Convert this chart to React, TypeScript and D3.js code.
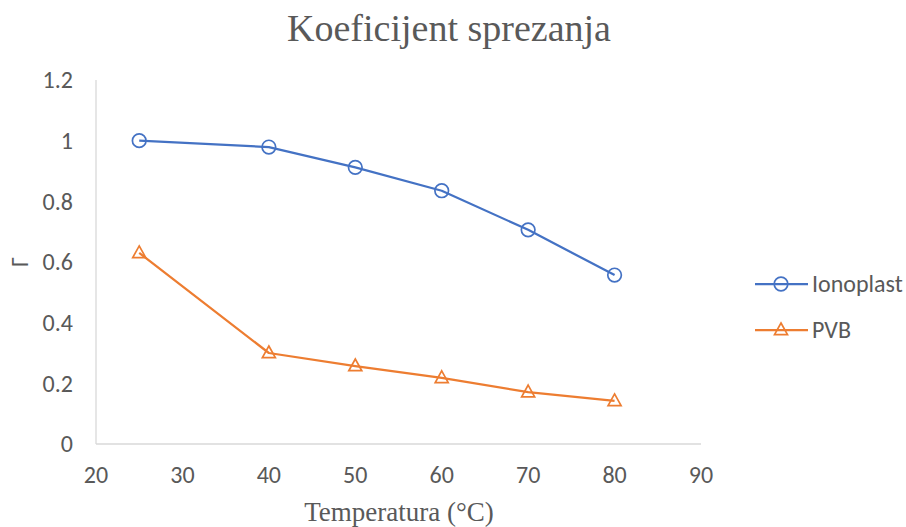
import React from "react";
import * as d3 from "d3";

const temperatures = [25, 40, 50, 60, 70, 80];
const ionoplast = [1.0, 0.979, 0.912, 0.835, 0.706, 0.557];
const pvb = [0.63, 0.3, 0.257, 0.218, 0.171, 0.142];
const xTicks = [20, 30, 40, 50, 60, 70, 80, 90];
const yTicks = [0, 0.2, 0.4, 0.6, 0.8, 1, 1.2];
const seriesNames = ["Ionoplast", "PVB"];

const W = 906;
const H = 527;
const BLUE = "#4472C4";
const ORANGE = "#ED7D31";
const TEXT = "#595959";
const SANS = "Carlito, Calibri, 'Open Sans', 'Noto Sans', sans-serif";
const SERIF = "'Liberation Serif', 'Times New Roman', serif";

function triPath(cx: number, cy: number, s: number) {
  const h = s * 0.9;
  return `M${cx},${cy - h * 0.6}L${cx + s / 2},${cy + h * 0.4}L${cx - s / 2},${cy + h * 0.4}Z`;
}

export default function App() {
  const x = d3.scaleLinear().domain([20, 90]).range([96, 701]);
  const y = d3.scaleLinear().domain([0, 1.2]).range([444, 80]);
  const line = d3
    .line<[number, number]>()
    .x((d) => x(d[0]))
    .y((d) => y(d[1]));
  const ionoPts = temperatures.map((t, i) => [t, ionoplast[i]] as [number, number]);
  const pvbPts = temperatures.map((t, i) => [t, pvb[i]] as [number, number]);

  return (
    <svg
      width={W}
      height={H}
      style={{ position: "absolute", left: 0, top: 0, background: "#fff" }}
    >
      <rect x={0} y={0} width={W} height={H} fill="#fff" />
      <text
        x={449}
        y={41}
        textAnchor="middle"
        fontFamily={SERIF}
        fontSize={38}
        fill={TEXT}
      >
        Koeficijent sprezanja
      </text>

      {/* axes */}
      <line x1={x(20)} x2={x(20)} y1={y(1.2)} y2={y(0)} stroke="#d9d9d9" strokeWidth={1.3} />
      <line x1={x(20)} x2={x(90)} y1={y(0)} y2={y(0)} stroke="#d9d9d9" strokeWidth={1.3} />

      {yTicks.map((v) => (
        <text
          key={"y" + v}
          x={73}
          y={y(v)}
          dy="0.35em"
          textAnchor="end"
          fontFamily={SANS}
          fontSize={24}
          fill={TEXT}
        >
          {String(v)}
        </text>
      ))}
      {xTicks.map((v) => (
        <text
          key={"x" + v}
          x={x(v)}
          y={475}
          dy="0.35em"
          textAnchor="middle"
          fontFamily={SANS}
          fontSize={24}
          fill={TEXT}
        >
          {String(v)}
        </text>
      ))}

      <text
        x={399}
        y={521}
        textAnchor="middle"
        fontFamily={SERIF}
        fontSize={27}
        fill={TEXT}
      >
        Temperatura (°C)
      </text>
      <text
        transform={`translate(28,262) rotate(-90)`}
        textAnchor="middle"
        fontFamily={SANS}
        fontSize={24}
        fill={TEXT}
      >
        Γ
      </text>

      {/* series */}
      <path d={line(ionoPts) || ""} fill="none" stroke={BLUE} strokeWidth={2.25} strokeLinejoin="round" />
      {ionoPts.map((p, i) => (
        <circle key={"c" + i} cx={x(p[0])} cy={y(p[1])} r={6.8} fill="none" stroke={BLUE} strokeWidth={1.7} />
      ))}
      <path d={line(pvbPts) || ""} fill="none" stroke={ORANGE} strokeWidth={2.25} strokeLinejoin="round" />
      {pvbPts.map((p, i) => (
        <path key={"t" + i} d={triPath(x(p[0]), y(p[1]), 13)} fill="none" stroke={ORANGE} strokeWidth={1.7} />
      ))}

      {/* legend */}
      <line x1={755} x2={808} y1={284} y2={284} stroke={BLUE} strokeWidth={2.25} />
      <circle cx={781} cy={284} r={6.8} fill="none" stroke={BLUE} strokeWidth={1.7} />
      <text x={812} y={284} dy="0.35em" fontFamily={SANS} fontSize={24} fill={TEXT}>
        {seriesNames[0]}
      </text>
      <line x1={755} x2={808} y1={330} y2={330} stroke={ORANGE} strokeWidth={2.25} />
      <path d={triPath(781, 330, 13)} fill="none" stroke={ORANGE} strokeWidth={1.7} />
      <text x={812} y={330} dy="0.35em" fontFamily={SANS} fontSize={24} fill={TEXT}>
        {seriesNames[1]}
      </text>
    </svg>
  );
}
